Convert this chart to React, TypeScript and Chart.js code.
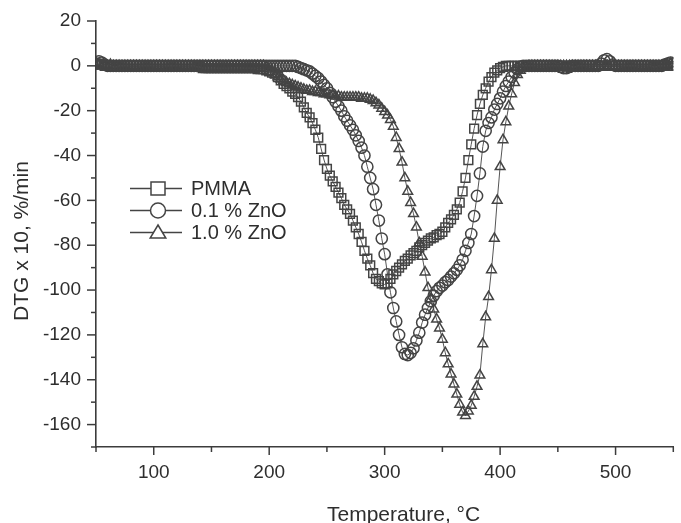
import React, { useEffect, useRef } from 'react';
import { Chart, registerables } from 'chart.js';

Chart.register(...registerables);

// Temperature grid (°C)
const temperatures = [
  50, 52.5, 55, 57.5, 60, 62.5, 65, 67.5, 70, 72.5,
  75, 77.5, 80, 82.5, 85, 87.5, 90, 92.5, 95, 97.5,
  100, 102.5, 105, 107.5, 110, 112.5, 115, 117.5, 120, 122.5,
  125, 127.5, 130, 132.5, 135, 137.5, 140, 142.5, 145, 147.5,
  150, 152.5, 155, 157.5, 160, 162.5, 165, 167.5, 170, 172.5,
  175, 177.5, 180, 182.5, 185, 187.5, 190, 192.5, 195, 197.5,
  200, 202.5, 205, 207.5, 210, 212.5, 215, 217.5, 220, 222.5,
  225, 227.5, 230, 232.5, 235, 237.5, 240, 242.5, 245, 247.5,
  250, 252.5, 255, 257.5, 260, 262.5, 265, 267.5, 270, 272.5,
  275, 277.5, 280, 282.5, 285, 287.5, 290, 292.5, 295, 297.5,
  300, 302.5, 305, 307.5, 310, 312.5, 315, 317.5, 320, 322.5,
  325, 327.5, 330, 332.5, 335, 337.5, 340, 342.5, 345, 347.5,
  350, 352.5, 355, 357.5, 360, 362.5, 365, 367.5, 370, 372.5,
  375, 377.5, 380, 382.5, 385, 387.5, 390, 392.5, 395, 397.5,
  400, 402.5, 405, 407.5, 410, 412.5, 415, 417.5, 420, 422.5,
  425, 427.5, 430, 432.5, 435, 437.5, 440, 442.5, 445, 447.5,
  450, 452.5, 455, 457.5, 460, 462.5, 465, 467.5, 470, 472.5,
  475, 477.5, 480, 482.5, 485, 487.5, 490, 492.5, 495, 497.5,
  500, 502.5, 505, 507.5, 510, 512.5, 515, 517.5, 520, 522.5,
  525, 527.5, 530, 532.5, 535, 537.5, 540, 542.5, 545, 547.5,
  550,
];

// DTG x 10 (%/min)
const pmma = [
  1, 1, 0.5, 0, 0, 0, -0.5, -0.5, 0, 0,
  0, 0, 0, 0, 0, 0, 0, 0, 0, 0,
  0, 0, 0, 0, 0, 0, 0, 0, 0, 0,
  0, 0, 0, 0, 0, -0.5, -0.5, -1, -1, -1,
  -1, -1, -1, -1, -1, -1, -1, -1, -1, -1,
  -1, -1, -1, -1, -1, -1, -1.5, -1.5, -1.5, -2,
  -2.5, -3, -3.5, -5, -6.5, -8, -9, -10, -11.5, -12.5,
  -14, -16, -18.5, -21, -23, -25.5, -28.5, -32, -37, -42,
  -46, -49, -51.5, -54, -56.5, -59, -62, -64, -66, -69,
  -72, -75, -78.5, -82.5, -86, -89, -92.5, -95, -96, -97,
  -97.5, -97, -95, -93, -91.5, -90, -88.5, -87, -86, -84.5,
  -83.5, -82.5, -81, -80, -79, -78, -77, -76.5, -75.5, -75,
  -74, -72, -70, -68.5, -66.5, -64, -61, -56, -50, -42,
  -35, -28, -22, -17, -13, -10, -7, -5, -3, -2,
  -1, -0.5, 0, 0, 0, 0, 0, 0, 0, 0,
  0, 0, 0, 0, 0, 0, 0, 0, 0, 0,
  0, 0, 0, 0, 0, -0.5, -0.5, 0, 0, 0,
  0, 0, 0, 0, 0, 0, 0, 0, 0, 0,
  0, 0, 0, 0, 0, 0, 0, 0, 0, 0,
  0, 0, 0, -0.5, -0.5, 0, 0, 0, 0, 0,
  0,
];

const zno01 = [
  1, 2, 1.5, 0.5, 0, 0, 0, 0, 0, 0,
  0, 0, 0, 0, 0, 0, 0, 0, 0, 0,
  0, 0, 0, 0, 0, 0, 0, 0, 0, 0,
  0, 0, 0, 0, 0, 0, 0, 0, 0, 0,
  0, 0, 0, 0, 0, 0, 0, 0, 0, 0,
  0, 0, 0, 0, 0, 0, 0, 0, 0, 0,
  0, 0, 0, 0, 0, 0, 0, 0, 0, 0,
  -0.5, -1, -1.5, -2, -2.5, -3.5, -4.5, -5.5, -7, -8.5,
  -10, -12, -14, -16, -18, -20, -22.5, -24.5, -26.5, -28.5,
  -31, -33.5, -36.5, -40, -45, -50, -55, -62, -69, -77,
  -84, -93, -101, -108, -114, -120, -125.5, -128.5, -129, -128,
  -126, -122.5, -119, -114.5, -111, -108, -105, -102.5, -100.5, -99,
  -98, -96.5, -95.5, -94, -92.5, -91, -89, -86.5, -82.5, -79,
  -75, -67, -58, -48, -36, -29, -25.5, -23, -19.5, -17,
  -14.5, -11.5, -9, -7, -5, -3, -1.5, -0.5, 0, 0,
  0, 0, 0, 0, 0, 0, 0, 0, 0, 0,
  0, -0.5, -1, -1, -0.5, 0, 0, 0, 0, 0,
  0, 0, 0, 0, 0, 1, 2.5, 3, 2, 0.5,
  0, 0, 0, 0, 0, 0, 0, 0, 0, 0,
  0, 0, 0, 0, 0, 0, 0, 0.5, 1, 1.5,
  1,
];

const zno10 = [
  1.5, 0.5, 0, 0, 0, 0.5, 0, 0, 0, 0,
  0, 0, 0, 0, 0, 0, 0, 0, 0, 0,
  0, 0, 0, 0, 0, 0, 0, 0, 0, 0,
  0, 0, 0, 0, 0, 0, 0, 0, 0, 0,
  0, 0, 0, 0, 0, 0, 0, 0, 0, 0,
  0, 0, 0, 0, 0, 0, 0, 0, 0, -0.5,
  -1.5, -2.5, -4, -5, -6, -6.5, -7.5, -8, -8.5, -9,
  -9.5, -10, -10.5, -11, -11, -11.5, -11.5, -12, -12, -12.5,
  -12.5, -13, -13, -13.5, -13.5, -14, -14, -14, -14, -14,
  -14, -14, -14.5, -14.5, -14.5, -15, -15.5, -16.5, -17.5, -19,
  -20.5, -22, -24, -27, -32, -37, -43, -50, -56, -61,
  -66, -72, -79, -85, -92, -99, -104, -108.5, -113, -117,
  -122, -128, -133, -137.5, -142, -146.5, -151, -154.5, -156, -154,
  -151.5, -147.5, -143, -138, -124, -112, -103, -91, -77, -60,
  -45, -33, -25, -18, -12.5, -7.5, -4, -2, -1, -0.5,
  0, 0, 0, 0, 0, 0, 0, 0, 0, 0,
  0, 0, 0, 0, 0, 0, 0, 0, 0, 0,
  0, 0, 0, 0, 0, 0, 0, 0, 0, 0,
  0, 0, 0, 0, 0, 0, 0, 0, 0, 0,
  0, 0, 0, 0, 0, 0, 0, 0, 0.5, 1,
  1,
];

const seriesLabels = ['PMMA', '0.1 % ZnO', '1.0 % ZnO'];
const seriesStyles = ['rect', 'circle', 'triangle'];
const xTitle = 'Temperature, °C';
const yTitle = 'DTG x 10, %/min';

const FONT = '"Liberation Sans", Arial, Helvetica, sans-serif';
const INK = '#2e2e2e';
const MARK = '#444444';
const AXIS = '#3c3c3c';

function drawLegendMarker(ctx: CanvasRenderingContext2D, style: string, x: number, y: number) {
  ctx.beginPath();
  if (style === 'rect') {
    ctx.rect(x - 7, y - 6.5, 14, 13);
  } else if (style === 'circle') {
    ctx.arc(x, y, 7.5, 0, Math.PI * 2);
  } else {
    ctx.moveTo(x, y - 7.5);
    ctx.lineTo(x + 7.8, y + 5.5);
    ctx.lineTo(x - 7.8, y + 5.5);
    ctx.closePath();
  }
  ctx.fillStyle = '#ffffff';
  ctx.fill();
  ctx.stroke();
}

const decorPlugin = {
  id: 'decor',
  afterDraw(chart: any) {
    const ctx: CanvasRenderingContext2D = chart.ctx;
    const xs = chart.scales.x;
    const ys = chart.scales.y;
    const area = chart.chartArea;
    ctx.save();
    // tick marks (major longer, minor shorter)
    ctx.strokeStyle = AXIS;
    ctx.lineWidth = 1.5;
    xs.ticks.forEach((t: any) => {
      const px = xs.getPixelForValue(t.value);
      const len = t.value % 100 === 0 ? 8 : 5;
      ctx.beginPath();
      ctx.moveTo(px, area.bottom);
      ctx.lineTo(px, area.bottom + len);
      ctx.stroke();
    });
    ys.ticks.forEach((t: any) => {
      const py = ys.getPixelForValue(t.value);
      const len = t.value % 20 === 0 ? 9 : 5;
      ctx.beginPath();
      ctx.moveTo(area.left, py);
      ctx.lineTo(area.left - len, py);
      ctx.stroke();
    });

    // axis titles
    ctx.fillStyle = INK;
    ctx.font = `21px ${FONT}`;
    ctx.textAlign = 'left';
    ctx.textBaseline = 'alphabetic';
    ctx.fillText(xTitle, 327, 521);
    ctx.save();
    ctx.translate(28, 241);
    ctx.rotate(-Math.PI / 2);
    ctx.textAlign = 'center';
    ctx.fillText(yTitle, 0, 0);
    ctx.restore();

    // legend
    const rows = [188.5, 210.5, 232.5];
    ctx.font = `20px ${FONT}`;
    ctx.textBaseline = 'middle';
    ctx.textAlign = 'left';
    seriesLabels.forEach((label, i) => {
      const y = rows[i];
      ctx.strokeStyle = MARK;
      ctx.lineWidth = 1.5;
      ctx.beginPath();
      ctx.moveTo(130, y);
      ctx.lineTo(182, y);
      ctx.stroke();
      ctx.lineWidth = 1.5;
      drawLegendMarker(ctx, seriesStyles[i], 158, y);
      ctx.fillStyle = INK;
      ctx.fillText(label, 191, y + 1);
    });
    ctx.restore();
  },
};

export default function App() {
  const canvasRef = useRef<HTMLCanvasElement | null>(null);

  useEffect(() => {
    const canvas = canvasRef.current;
    if (!canvas) return;
    const seriesValues = [pmma, zno01, zno10];
    const radii = [6.2, 5.6, 5.6];
    const chart = new Chart(canvas, {
      type: 'line',
      data: {
        datasets: seriesValues.map((vals, i) => ({
          label: seriesLabels[i],
          data: temperatures.map((t, j) => ({ x: t, y: vals[j] })),
          borderColor: '#555555',
          borderWidth: 1,
          pointStyle: seriesStyles[i] as any,
          pointRadius: radii[i],
          pointBorderColor: MARK,
          pointBorderWidth: 1.5,
          pointBackgroundColor: 'rgba(0,0,0,0)',
          fill: false,
          tension: 0,
        })),
      },
      options: {
        responsive: false,
        animation: false,
        devicePixelRatio: 1,
        layout: { padding: { left: 0, right: 6, top: 21, bottom: 0 } },
        plugins: {
          legend: { display: false },
          tooltip: { enabled: false },
          title: { display: false },
        },
        scales: {
          x: {
            type: 'linear',
            min: 50,
            max: 550,
            afterFit: (scale: any) => {
              scale.height = 76;
            },
            ticks: {
              stepSize: 50,
              autoSkip: false,
              maxRotation: 0,
              padding: 6,
              color: INK,
              font: { family: FONT, size: 19 },
              callback: (v: any) => (Number(v) % 100 === 0 ? String(v) : ''),
            },
            grid: {
              drawOnChartArea: false,
              drawTicks: true,
              tickLength: 8,
              tickColor: 'rgba(0,0,0,0)',
            },
            border: { display: true, color: AXIS, width: 1.6 },
          },
          y: {
            type: 'linear',
            min: -170,
            max: 20,
            afterFit: (scale: any) => {
              scale.width = 96;
            },
            ticks: {
              stepSize: 10,
              autoSkip: false,
              padding: 6,
              color: INK,
              font: { family: FONT, size: 19 },
              callback: (v: any) => (Number(v) % 20 === 0 ? String(v) : ''),
            },
            grid: {
              drawOnChartArea: false,
              drawTicks: true,
              tickLength: 9,
              tickColor: 'rgba(0,0,0,0)',
            },
            border: { display: true, color: AXIS, width: 1.6 },
          },
        },
      },
      plugins: [decorPlugin],
    });
    return () => {
      chart.destroy();
    };
  }, []);

  return (
    <div style={{ position: 'absolute', left: 0, top: 0, width: 681, height: 523, background: '#ffffff' }}>
      <canvas ref={canvasRef} width={681} height={523} style={{ display: 'block' }} />
    </div>
  );
}
